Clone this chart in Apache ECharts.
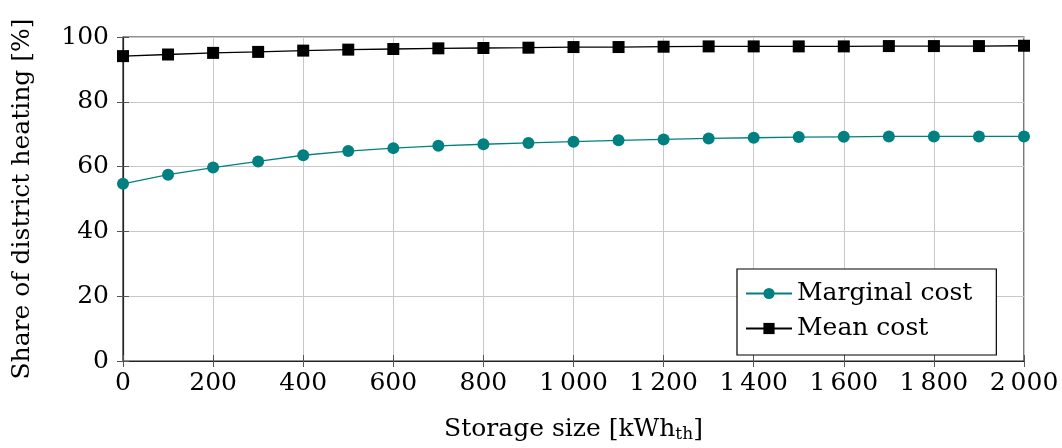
<!DOCTYPE html>
<html>
<head>
<meta charset="utf-8">
<script src="https://cdn.jsdelivr.net/npm/echarts@6/dist/echarts.min.js"></script>
<style>
  html, body { margin: 0; padding: 0; background: #fff; }
  #chart { width: 1062px; height: 448px; }
</style>
</head>
<body>
<div id="chart"></div>
<script>
// Storage size in kWh_th
const storageSizes = [0, 100, 200, 300, 400, 500, 600, 700, 800, 900, 1000,
                      1100, 1200, 1300, 1400, 1500, 1600, 1700, 1800, 1900, 2000];
// Share of district heating [%]
const marginalCost = [54.7, 57.5, 59.7, 61.6, 63.5, 64.8, 65.7, 66.4, 66.9, 67.3, 67.7,
                      68.1, 68.4, 68.7, 68.9, 69.1, 69.2, 69.3, 69.3, 69.3, 69.3];
const meanCost = [94.1, 94.6, 95.1, 95.4, 95.8, 96.1, 96.3, 96.5, 96.6, 96.7, 96.9,
                  96.9, 97.0, 97.1, 97.1, 97.1, 97.1, 97.2, 97.2, 97.2, 97.3];
const xTicks = [0, 200, 400, 600, 800, 1000, 1200, 1400, 1600, 1800, 2000];
const yTicks = [0, 20, 40, 60, 80, 100];

const FONT = '"DejaVu Serif", "Liberation Serif", serif';
const FS = 25;
const TEAL = '#008080';

function thinSpace(v) {
  const s = String(v);
  return s.length > 3 ? s.slice(0, s.length - 3) + '\u2009' + s.slice(-3) : s;
}

const chart = echarts.init(document.getElementById('chart'), null, { renderer: 'canvas' });

const tickStyle = { show: true, inside: true, length: 6, lineStyle: { color: '#555', width: 1 } };

chart.setOption({
  animation: false,
  backgroundColor: '#fff',
  textStyle: { fontFamily: FONT, color: '#000' },
  grid: {
    left: 123, right: 38, top: 37, bottom: 82,
    show: true, borderColor: '#222', borderWidth: 1.2, backgroundColor: 'transparent'
  },
  legend: {
    left: 737, top: 269,
    orient: 'vertical',
    backgroundColor: '#fff',
    borderColor: '#000', borderWidth: 1.2,
    padding: [12, 24, 14, 8],
    itemGap: 10,
    itemWidth: 46, itemHeight: 14,
    textStyle: { fontFamily: FONT, fontSize: FS, color: '#000', padding: [0, 0, 0, 0] },
    data: ['Marginal cost', 'Mean cost']
  },
  xAxis: [{
    type: 'value', min: 0, max: 2000, interval: 200,
    name: 'Storage size [kWh{sub|th}]',
    nameLocation: 'middle', nameGap: 54,
    nameTextStyle: {
      fontFamily: FONT, fontSize: FS, color: '#000',
      rich: { sub: { fontFamily: FONT, fontSize: 17, verticalAlign: 'bottom', padding: [11, 0, 0, 0] } }
    },
    axisLine: { show: true, lineStyle: { color: '#222', width: 1.2 } },
    axisTick: tickStyle,
    axisLabel: { fontFamily: FONT, fontSize: FS, color: '#000', margin: 10, formatter: v => thinSpace(v) },
    splitLine: { show: true, lineStyle: { color: '#c8c8c8', width: 1 } }
  }, {
    type: 'value', min: 0, max: 2000, interval: 200, position: 'top',
    axisLine: { show: false }, axisTick: tickStyle,
    axisLabel: { show: false }, splitLine: { show: false }
  }],
  yAxis: [{
    type: 'value', min: 0, max: 100, interval: 20,
    name: 'Share of district heating [%]',
    nameLocation: 'middle', nameGap: 88, nameRotate: 90,
    nameTextStyle: { fontFamily: FONT, fontSize: FS, color: '#000' },
    axisLine: { show: true, lineStyle: { color: '#222', width: 1.2 } },
    axisTick: tickStyle,
    axisLabel: { fontFamily: FONT, fontSize: FS, color: '#000', margin: 14 },
    splitLine: { show: true, lineStyle: { color: '#c8c8c8', width: 1 } }
  }, {
    type: 'value', min: 0, max: 100, interval: 20, position: 'right',
    axisLine: { show: false }, axisTick: tickStyle,
    axisLabel: { show: false }, splitLine: { show: false }
  }],
  series: [{
    name: 'Marginal cost', type: 'line',
    data: storageSizes.map((x, i) => [x, marginalCost[i]]),
    symbol: 'circle', symbolSize: 12,
    lineStyle: { color: TEAL, width: 1.3 },
    itemStyle: { color: TEAL },
    z: 3
  }, {
    name: 'Mean cost', type: 'line',
    data: storageSizes.map((x, i) => [x, meanCost[i]]),
    symbol: 'rect', symbolSize: 12,
    lineStyle: { color: '#000', width: 1.3 },
    itemStyle: { color: '#000' },
    z: 3
  }]
});
</script>
</body>
</html>
